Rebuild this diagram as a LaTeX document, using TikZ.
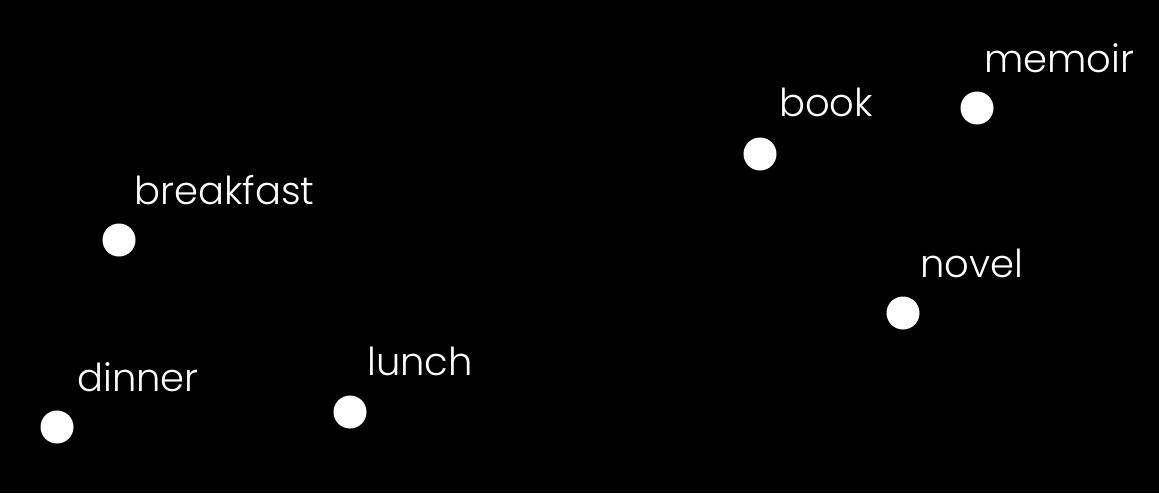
\documentclass[tikz,border=0pt]{standalone}
\usepackage{fontspec}
\setmainfont{Poppins}[UprightFont=* Light]
\begin{document}
\begin{tikzpicture}[x=1pt,y=-1pt,
  dot/.style={circle,fill=white,inner sep=0pt,minimum size=33pt},
  lbl/.style={anchor=base west,text=white,inner sep=0pt,font=\fontsize{38.5}{44}\selectfont}]
\fill[black] (0,0) rectangle (1159,493);
\useasboundingbox (0,0) rectangle (1159,493);
\node[dot] (breakfast) at (119,240) {};
\node[dot] (dinner) at (57,427) {};
\node[dot] (lunch) at (350,412) {};
\node[dot] (book) at (760,154) {};
\node[dot] (memoir) at (977,108) {};
\node[dot] (novel) at (903,313) {};
\node[lbl] (tbreakfast) at (134,204) {breakfast};
\node[lbl] (tdinner) at (77,391) {dinner};
\node[lbl] (tlunch) at (367,375) {lunch};
\node[lbl] (tbook) at (779,116) {book};
\node[lbl] (tmemoir) at (984,72) {memoir};
\node[lbl] (tnovel) at (920,277) {novel};
\end{tikzpicture}
\end{document}
